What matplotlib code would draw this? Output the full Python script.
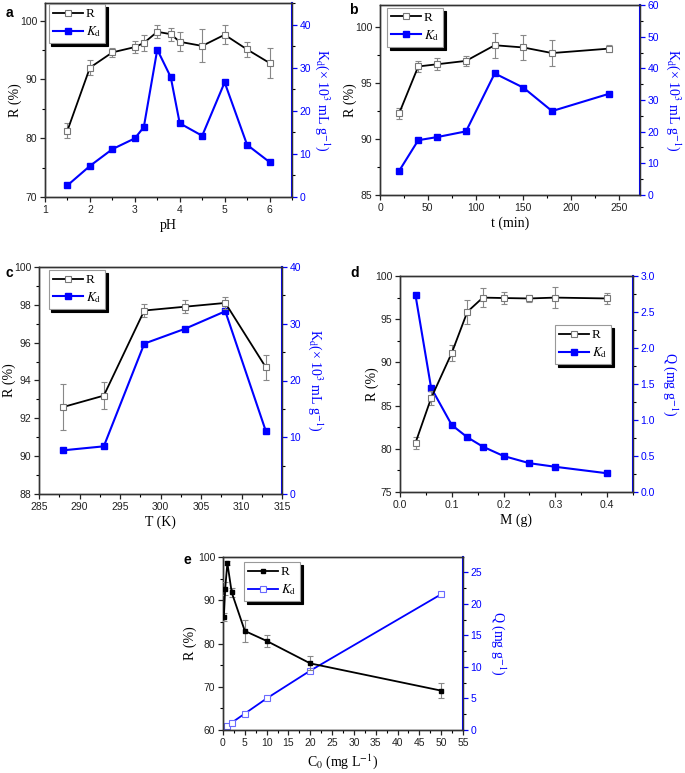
import matplotlib
matplotlib.use("Agg")
import matplotlib.pyplot as plt
from matplotlib.ticker import MultipleLocator
from matplotlib.lines import Line2D

plt.rcParams['font.family'] = ['Liberation Sans', 'DejaVu Sans']
plt.rcParams['mathtext.fontset'] = 'stix'

# ---------------- data ----------------
pH = [1.5, 2, 2.5, 3, 3.2, 3.5, 3.8, 4, 4.5, 5, 5.5, 6]
R_a = [81.3, 92.0, 94.6, 95.5, 96.2, 98.1, 97.7, 96.4, 95.7, 97.6, 95.1, 92.8]
Re_a = [1.3, 1.3, 0.8, 1.0, 1.3, 1.1, 1.1, 1.6, 2.8, 1.6, 1.25, 2.6]
Kd_a = [2.7, 7.2, 11.1, 13.6, 16.2, 34.2, 27.8, 17.1, 14.2, 26.6, 12.1, 8.1]

t_min = [20, 40, 60, 90, 120, 150, 180, 240]
R_b = [92.3, 96.5, 96.7, 97.0, 98.4, 98.2, 97.7, 98.1]
Re_b = [0.5, 0.5, 0.55, 0.45, 1.1, 1.1, 1.15, 0.3]
Kd_b = [7.6, 17.3, 18.3, 20.1, 38.4, 33.9, 26.5, 32.0]

T_K = [288, 293, 298, 303, 308, 313]
R_c = [92.6, 93.2, 97.7, 97.9, 98.1, 94.7]
Re_c = [1.2, 0.7, 0.33, 0.35, 0.34, 0.65]
Kd_c = [7.7, 8.4, 26.5, 29.1, 32.2, 11.1]

M_g = [0.03, 0.06, 0.1, 0.13, 0.16, 0.2, 0.25, 0.3, 0.4]
R_d = [80.7, 85.85, 91.1, 95.85, 97.5, 97.45, 97.4, 97.5, 97.4]
Re_d = [0.7, 0.8, 0.95, 1.4, 1.1, 0.65, 0.4, 1.2, 0.6]
Q_d = [2.73, 1.45, 0.93, 0.76, 0.63, 0.50, 0.40, 0.35, 0.26]

C0 = [0.2, 0.5, 1, 2, 5, 10, 20, 50]
R_e = [86.1, 92.7, 98.6, 91.8, 82.9, 80.6, 75.4, 69.1]
Re_e = [1.0, 1.6, 0.5, 1.0, 2.6, 1.3, 1.6, 1.8]
C0_q = [1, 2, 5, 10, 20, 50]
Q_e = [0.63, 1.16, 2.6, 5.0, 9.4, 21.5]

BLUE = '#0000ff'
W, H = 685, 773
fig = plt.figure(figsize=(W / 100, H / 100), dpi=100)


def rect(l, r, t, b):
    return [l / W, 1 - b / H, (r - l) / W, (b - t) / H]


serif = ['Liberation Serif', 'DejaVu Serif']
kd_label = r"K$_\mathrm{d}$(× 10$^3$ mL g$^{-1}$)"
q_label = r"Q (mg g$^{-1}$)"


def panel(box, x, R, Re, y2, x2=None, *, xlim, ylim, y2lim, xmaj, xmin, ymaj, ymin,
          y2maj, y2min, xlabel, ylabel, y2label, letter, letterpos, leganchor,
          loff=30, roff=33, e_style=False):
    ax = fig.add_axes(rect(*box))
    ax2 = ax.twinx()
    wpx = box[1] - box[0]
    if x2 is None:
        x2 = x
    if not e_style:
        r_kw = dict(color='black', lw=1.3, marker='s', ms=4, mfc='white',
                    mec='#777777', mew=0.8)
        k_kw = dict(color=BLUE, lw=1.5, marker='s', ms=4, mfc=BLUE, mec=BLUE)
    else:
        r_kw = dict(color='black', lw=1.3, marker='s', ms=3.5, mfc='black',
                    mec='black')
        k_kw = dict(color=BLUE, lw=1.3, marker='s', ms=4, mfc='white',
                    mec='#6a6aff', mew=0.8)
    ax.errorbar(x, R, yerr=Re, ecolor='#888888', elinewidth=0.8, capsize=2,
                capthick=0.8, zorder=3, **r_kw)
    ax2.plot(x2, y2, **k_kw)
    ax.set_zorder(ax2.get_zorder() + 1)
    ax.patch.set_visible(False)

    ax.set_xlim(*xlim)
    ax.set_ylim(*ylim)
    ax2.set_ylim(*y2lim)
    ax.xaxis.set_major_locator(MultipleLocator(xmaj))
    ax.xaxis.set_minor_locator(MultipleLocator(xmin))
    ax.yaxis.set_major_locator(MultipleLocator(ymaj))
    ax.yaxis.set_minor_locator(MultipleLocator(ymin))
    ax2.yaxis.set_major_locator(MultipleLocator(y2maj))
    ax2.yaxis.set_minor_locator(MultipleLocator(y2min))

    for a in (ax, ax2):
        a.tick_params(which='both', direction='out', labelsize=7.5, pad=2)
        a.tick_params(which='major', length=3.5, width=0.9)
        a.tick_params(which='minor', length=2, width=0.8)
        for s in a.spines.values():
            s.set_linewidth(1.0)
            s.set_color('#333333')
    ax.tick_params(axis='both', colors='#222222')
    ax2.spines['right'].set_color(BLUE)
    ax2.spines['right'].set_linewidth(1.5)
    ax2.tick_params(axis='y', colors=BLUE, labelcolor=BLUE)

    ax.set_xlabel(xlabel, fontfamily=serif, fontsize=10, labelpad=3)
    ax.set_ylabel(ylabel, fontfamily=serif, fontsize=10, va='center')
    ax.yaxis.set_label_coords(-loff / wpx, 0.5)
    ax2.set_ylabel(y2label, fontfamily=serif, fontsize=10, color=BLUE,
                   rotation=270, va='center')
    ax2.yaxis.set_label_coords(1 + roff / wpx, 0.5)

    h_r = Line2D([], [], **r_kw)
    h_k = Line2D([], [], **k_kw)
    leg = ax.legend([h_r, h_k], ['R', r"$K_\mathrm{d}$"], loc='upper left',
                    bbox_to_anchor=leganchor, borderaxespad=0, numpoints=1,
                    handlelength=2.3, handletextpad=0.2, borderpad=0.3,
                    labelspacing=0.3, fancybox=False, framealpha=1,
                    edgecolor='#999999',
                    prop={'family': serif, 'size': 9.5},
                    shadow={'facecolor': 'black', 'edgecolor': 'black',
                            'alpha': 1})
    leg.get_frame().set_linewidth(0.8)
    fig.text(letterpos[0] / W, 1 - letterpos[1] / H, letter, fontsize=10,
             fontweight='bold', ha='center', va='center')
    return ax, ax2


panel((45, 292, 3, 197), pH, R_a, Re_a, Kd_a,
      xlim=(1, 6.5), ylim=(70, 103), y2lim=(0, 45), xmaj=1, xmin=0.5,
      ymaj=10, ymin=5, y2maj=10, y2min=5,
      xlabel='pH', ylabel='R (%)', y2label=kd_label,
      letter='a', letterpos=(9, 13), leganchor=(0.015, 0.995),
      loff=30, roff=30)

panel((380, 640, 5, 195), t_min, R_b, Re_b, Kd_b,
      xlim=(0, 272), ylim=(85, 102), y2lim=(0, 60), xmaj=50, xmin=25,
      ymaj=5, ymin=2.5, y2maj=10, y2min=5,
      xlabel='t (min)', ylabel='R (%)', y2label=kd_label,
      letter='b', letterpos=(353, 10), leganchor=(0.027, 0.985),
      loff=30, roff=33)

panel((39, 282, 267, 494), T_K, R_c, Re_c, Kd_c,
      xlim=(285, 315), ylim=(88, 100), y2lim=(0, 40), xmaj=5, xmin=2.5,
      ymaj=2, ymin=1, y2maj=10, y2min=5,
      xlabel='T (K)', ylabel='R (%)', y2label=kd_label,
      letter='c', letterpos=(9, 273), leganchor=(0.04, 0.987),
      loff=30, roff=33)

panel((400, 633, 276, 492), M_g, R_d, Re_d, Q_d,
      xlim=(0, 0.45), ylim=(75, 100), y2lim=(0, 3.0), xmaj=0.1, xmin=0.05,
      ymaj=5, ymin=2.5, y2maj=0.5, y2min=0.25,
      xlabel='M (g)', ylabel='R (%)', y2label=q_label,
      letter='d', letterpos=(355, 273), leganchor=(0.665, 0.773),
      loff=28, roff=37)

panel((223, 463, 557, 730), C0, R_e, Re_e, Q_e, x2=C0_q,
      xlim=(0, 55), ylim=(60, 100), y2lim=(0, 27.4), xmaj=5, xmin=2.5,
      ymaj=10, ymin=5, y2maj=5, y2min=2.5,
      xlabel=r'C$_0$ (mg L$^{-1}$)', ylabel='R (%)', y2label=q_label,
      letter='e', letterpos=(187, 560), leganchor=(0.0875, 0.971),
      loff=33, roff=35, e_style=True)

fig.savefig('out.png', dpi=100)
